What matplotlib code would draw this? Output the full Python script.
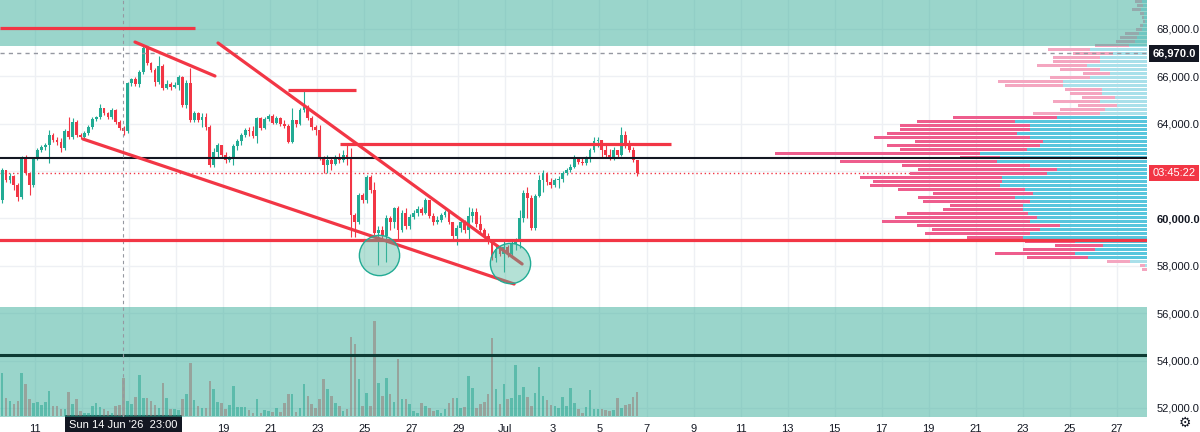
import numpy as np
import matplotlib
matplotlib.use('Agg')
import matplotlib.pyplot as plt
from matplotlib.patches import Rectangle
from matplotlib.transforms import blended_transform_factory

plt.rcParams['font.family'] = ['Liberation Sans', 'DejaVu Sans']

# ---- candles: 4h bars, x in days (1 Jun = 1, 1 Jul = 31) ----
t_start = 9.6
open0 = 60780
closes = [
    62050, 61620, 61790, 61410, 60910, 62550, 61920, 61410, 62550, 62890,
    63020, 63100, 63520, 63310, 63230, 62980, 63690, 63440, 64070, 63520,
    63440, 63610, 63860, 64200, 64280, 64660, 64450, 64280, 64580, 64070,
    63820, 63690, 65720, 65890, 65680, 66180, 67200, 66560, 66270, 65760,
    66440, 65510, 65680, 65550, 65640, 65970, 64790, 65720, 64160, 64450,
    64160, 64280, 63860, 62260, 62810, 63100, 62680, 62470, 62550, 63060,
    63270, 63520, 63740, 63690, 63480, 64240, 63820, 64200, 64330, 64030,
    64240, 63990, 63900, 63230, 64160, 63990, 64580, 64710, 64240, 63860,
    63740, 62550, 62260, 62470, 62300, 62550, 62470, 62680, 62600, 60150,
    59850, 60990, 60780, 61750, 61200, 59390, 59510, 59260, 60020, 59850,
    60440, 59510, 60230, 59680, 60060, 60230, 60400, 60230, 60780, 60100,
    59850, 59940, 60150, 60270, 59850, 59260, 59600, 59850, 59510, 60100,
    60270, 59770, 59510, 59260, 59010, 58330, 58710, 58500, 58800, 58500,
    58920, 59090, 60020, 61080, 60860, 59600, 60950, 61620, 61920, 61540,
    61410, 61620, 61670, 61920, 62050, 62170, 62550, 62380, 62340, 62550,
    62890, 63270, 63310, 62890, 62680, 62550, 62890, 62680, 63520, 63060,
    62890, 62470, 61920]
highs = [
    62130, 62050, 61920, 61840, 61500, 62640, 62680, 61960, 62600, 62980,
    63100, 63190, 63740, 63610, 63440, 63400, 63780, 64280, 64240, 64160,
    63610, 63690, 63950, 64280, 64330, 64830, 64580, 64500, 64660, 64620,
    64160, 63900, 65760, 65930, 65970, 66270, 67320, 67240, 66610, 66350,
    66860, 66520, 65850, 65760, 65760, 66060, 66020, 65850, 66350, 64540,
    64500, 64450, 64450, 63950, 62980, 63190, 63020, 62810, 62640, 63140,
    63360, 63610, 63820, 63860, 63900, 64280, 64280, 64280, 64410, 64410,
    64330, 64280, 64160, 63990, 64660, 64160, 64660, 65420, 64790, 64330,
    63950, 63950, 62640, 62680, 62600, 62680, 62760, 62890, 63100, 62980,
    60230, 61080, 61080, 61840, 61840, 61540, 59680, 59680, 60150, 60100,
    60490, 60530, 60360, 60440, 60190, 60360, 60530, 60490, 60860, 60780,
    60230, 60100, 60230, 60360, 60360, 59850, 59720, 59980, 59940, 60490,
    60440, 60440, 60150, 59600, 59390, 59090, 58840, 58800, 59090, 58880,
    59090, 59180, 60360, 61200, 61330, 60990, 61030, 61840, 62050, 61960,
    61710, 61710, 61790, 62000, 62130, 62300, 62680, 62600, 62550, 62640,
    62980, 63440, 63440, 63310, 63100, 62930, 63020, 62890, 63860, 63690,
    63310, 63020, 62470]
lows = [
    60650, 61540, 61500, 61200, 60740, 60820, 61840, 60990, 61330, 62470,
    62810, 62890, 62340, 63230, 63100, 62810, 62890, 63360, 63360, 63440,
    63360, 63360, 63520, 63780, 64120, 64200, 64370, 64200, 64200, 63990,
    63740, 63520, 63610, 65590, 65590, 65550, 66100, 66480, 66180, 65590,
    65680, 65420, 65470, 65420, 65510, 65420, 64710, 64660, 64070, 64070,
    64070, 63860, 63740, 62170, 62170, 62600, 62550, 62340, 62380, 62260,
    62890, 63100, 63440, 63480, 63400, 63190, 63740, 63780, 64120, 63990,
    63990, 63900, 63820, 63190, 63190, 63860, 63950, 64500, 64160, 63740,
    63520, 62470, 61920, 61920, 62050, 62260, 62340, 62380, 62260, 59220,
    59220, 59770, 60650, 60650, 61080, 59300, 58040, 59090, 58160, 59510,
    59600, 59090, 59430, 59560, 59560, 59980, 60100, 60150, 60190, 60020,
    59720, 59770, 59850, 60060, 59770, 59090, 58880, 59430, 59390, 59090,
    59850, 59640, 59390, 59180, 58920, 58250, 58160, 58420, 57740, 58370,
    58330, 58670, 58750, 59850, 60020, 59510, 59510, 60910, 61120, 61410,
    61290, 61330, 61290, 61540, 61840, 61960, 62130, 62300, 62260, 62260,
    62380, 62810, 63020, 62600, 62600, 62470, 62470, 62600, 62640, 62980,
    62810, 62380, 61790]
volumes = [
    43, 18, 15, 12, 15, 43, 32, 17, 13, 14, 11, 14, 25, 10, 10, 7, 7, 24, 12, 17,
    5, 3, 3, 10, 13, 9, 7, 5, 3, 10, 11, 38, 15, 12, 19, 41, 18, 18, 15, 11,
    8, 33, 18, 7, 7, 6, 17, 22, 53, 16, 10, 8, 8, 35, 27, 14, 13, 7, 11, 30,
    9, 9, 9, 6, 3, 17, 3, 6, 5, 4, 8, 4, 13, 22, 22, 4, 8, 32, 20, 12, 8,
    17, 37, 27, 20, 13, 10, 5, 7, 79, 72, 37, 10, 23, 10, 95, 33, 20, 38, 22, 14,
    57, 17, 17, 12, 5, 3, 13, 10, 8, 5, 6, 3, 7, 13, 18, 18, 8, 9, 40, 28,
    8, 12, 14, 22, 78, 27, 12, 32, 17, 18, 51, 21, 29, 19, 10, 23, 49, 20, 16, 11,
    10, 8, 19, 10, 28, 13, 7, 3, 9, 26, 7, 7, 7, 6, 5, 6, 18, 8, 11, 12, 19, 24]

# ---- volume profile, rows from top (69,180) downwards ----
vp_top = 69180
vp_step = 169
vp_total = [12, 10, 15, 7, 5, 4, 7, 11, 22, 27, 31, 52,
            99, 74, 94, 94, 110, 87, 64, 97, 149, 142, 82, 77, 65, 94, 69, 87, 114,
            194, 230, 247, 247, 260, 273, 232, 260, 247, 372, 187, 307, 245, 229, 237,
            287, 274, 277, 249, 214, 229, 224, 197, 204, 240, 252, 265, 230, 215, 222,
            180, 122, 92, 124, 152, 120, 40, 7, 5]
vp_up = [5, 4, 6, 3, 3, 2, 4, 5, 8, 10, 12, 18,
         57, 34, 47, 47, 60, 47, 37, 57, 84, 84, 45, 45, 32, 47, 30, 42, 47,
         90, 132, 117, 117, 130, 117, 104, 107, 120, 167, 147, 150, 117, 90, 100,
         145, 145, 147, 122, 114, 132, 117, 124, 124, 119, 110, 117, 87, 107, 117,
         124, 72, 44, 52, 72, 59, 17, 2, 0]
va_high, va_low = 64300, 58300

# ---- levels and drawings ----
zone_top = (67280, 69400)
zone_bottom = (51500, 56260)
black_level = 62550
volume_line = 54250
support = 59080
last_price = 61920
ref_price = 66970
top_line = (9.5, 17.8, 68040)
short_line = (21.76, 24.65, 65420)
mid_line = (23.97, 38.06, 63140)
trend_a = ((15.25, 67450), (18.65, 66015))
trend_b = ((18.78, 67410), (31.71, 58080))
trend_c = ((13.04, 63355), (31.37, 57234))
circles = [(25.63, 58460), (31.2, 58120)]
cross_x = 14.75

day_ticks = list(range(11, 58, 2))
# 13, 15, 17 sit under the crosshair time label
day_labels = ['11', '', '', '', '19', '21', '23', '25', '27', '29', 'Jul',
              '3', '5', '7', '9', '11', '13', '15', '17', '19', '21', '23', '25', '27']
price_ticks = [52000, 54000, 56000, 58000, 60000, 64000, 66000, 68000]  # 62,000 hidden by countdown

UP, DOWN, RED = '#22ab94', '#f23645', '#f23645'
TXT = '#131722'

x_left, x_right = 9.51, 58.28
y_low, y_high = 51620, 69224

fig = plt.figure(figsize=(12, 4.32), dpi=100)
ax = fig.add_axes([0, 15 / 432, 1147 / 1200, 417 / 432])
ax.set_zorder(1)
ax.set_xlim(x_left, x_right)
ax.set_ylim(y_low, y_high)
for s in ax.spines.values():
    s.set_visible(False)
ax.set_axisbelow(True)

# candles
c = np.array(closes, float)
o = np.concatenate([[open0], c[:-1]])
h = np.maximum(np.array(highs, float), np.maximum(o, c))
l = np.minimum(np.array(lows, float), np.minimum(o, c))
t = t_start + np.arange(len(c)) / 6
up = c >= o
col = np.where(up, UP, DOWN)
ax.vlines(t, l, h, colors=col, lw=0.8, zorder=3)
ax.bar(t, np.maximum(np.abs(c - o), 25), bottom=np.minimum(o, c), width=0.12,
       color=col, zorder=4)
ax.plot([x_left, x_right], [last_price] * 2, color=RED, lw=1, ls=(0, (1, 2)), zorder=2)

# volume profile on its own x scale (bars grow leftwards from the right edge)
vp = ax.twiny()
vp.set_zorder(2)
vp.set_xlim(1147, 0)
vp.axis('off')
rows = vp_top - vp_step * np.arange(len(vp_total))
in_va = (rows <= va_high) & (rows >= va_low)
vp.barh(rows, vp_total, height=vp_step * 0.75, left=0,
        color=np.where(in_va, '#ee5d8d', '#f4a6c0'))
vp.barh(rows, vp_up, height=vp_step * 0.75, left=0,
        color=np.where(in_va, '#58c6dd', '#a9e0ea'))

# volume bars + overlays
vol = ax.twinx()
vol.set_zorder(3)
vol.set_ylim(0, 417)
vol.axis('off')
vol.bar(t, volumes[:len(t)], width=0.11, bottom=1,
        color=np.where(up, '#089981', '#f23645'), alpha=0.5, zorder=1)

T = ax.transData
for lo, hi in (zone_top, zone_bottom):
    vol.add_patch(Rectangle((x_left, lo), x_right - x_left, hi - lo, transform=T,
                            facecolor='#37ad99', alpha=0.5, edgecolor='none', zorder=2))

vol.plot([x_left, x_right], [volume_line] * 2, color='#0e3b34', lw=2.2, transform=T, zorder=3)
vol.plot([x_left, x_right], [black_level] * 2, color=TXT, lw=1.5, transform=T, zorder=3)
vol.plot([x_left, x_right], [ref_price] * 2, color='#9598a1', lw=1, ls=(0, (3, 3)),
         transform=T, zorder=3)
vol.plot([cross_x, cross_x], [y_low, y_high], color='#9598a1', lw=0.8, ls=(0, (3, 3)),
         transform=T, zorder=3)
vol.plot([x_left, x_right], [support] * 2, color=RED, lw=2.3, transform=T, zorder=4)
for x0, x1, p in (top_line, short_line, mid_line):
    vol.plot([x0, x1], [p, p], color=RED, lw=2.3, transform=T, zorder=4,
             solid_capstyle='butt')
for (xa, pa), (xb, pb) in (trend_a, trend_b, trend_c):
    vol.plot([xa, xb], [pa, pb], color=RED, lw=2.3, transform=T, zorder=4,
             solid_capstyle='round')
for cx, cy in circles:
    vol.plot([cx], [cy], 'o', ms=29, transform=T, zorder=5,
             mfc=(0.30, 0.72, 0.62, 0.42), mec='#22ab94', mew=1)

# grid + ticks (after twins, which reset the tick side)
ax.set_xticks(day_ticks)
ax.set_xticklabels(day_labels)
ax.xaxis.tick_bottom()
ax.tick_params(axis='x', length=0, pad=5, labelsize=8, colors=TXT)
ax.set_yticks(price_ticks)
ax.set_yticklabels([f'{v:,.1f}' for v in price_ticks])
ax.yaxis.tick_right()
ax.tick_params(axis='y', which='both', left=False, right=False, labelleft=False,
               labelright=True, length=0, pad=7, labelsize=8, colors=TXT)
for lab in ax.get_yticklabels():
    if lab.get_text() == '60,000.0':
        lab.set_fontweight('bold')
ax.grid(color='#eef0f4', lw=1)
ax.axhline(62000, color='#eef0f4', lw=1, zorder=0)

# price / time labels
bt = blended_transform_factory(ax.transAxes, ax.transData)
ax.text(1.0235, ref_price, f'{ref_price:,.1f}', transform=bt, ha='center', va='center',
        fontsize=8, fontweight='bold', color='white', clip_on=False, zorder=10,
        bbox=dict(boxstyle='square,pad=0.3', fc=TXT, ec='none'))
ax.text(1.0235, last_price, '03:45:22', transform=bt, ha='center', va='center',
        fontsize=8, color='white', clip_on=False, zorder=10,
        bbox=dict(boxstyle='square,pad=0.3', fc=RED, ec='none'))
bx = blended_transform_factory(ax.transData, ax.transAxes)
ax.text(cross_x, -0.006, "Sun 14 Jun '26  23:00", transform=bx, ha='center', va='top',
        fontsize=8, color='white', clip_on=False, zorder=10,
        bbox=dict(boxstyle='square,pad=0.4', fc=TXT, ec='none'))
fig.text(0.982, 0.012, '\u2699', family='DejaVu Sans', fontsize=10, color=TXT)

fig.savefig('out.png', dpi=100, facecolor='white')
